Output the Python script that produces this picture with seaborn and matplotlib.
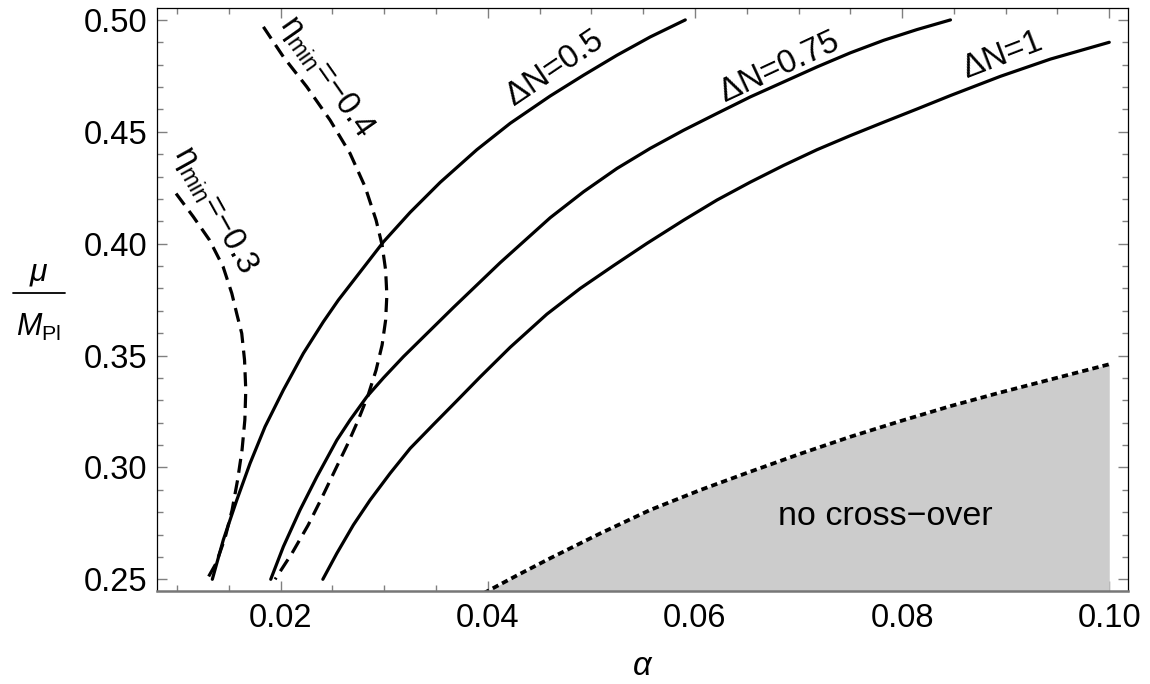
import numpy as np
import pandas as pd
import matplotlib
matplotlib.use("Agg")
import matplotlib.pyplot as plt
from matplotlib.lines import Line2D
from matplotlib.ticker import MultipleLocator, FixedLocator
import seaborn as sns

# ---------------- data ----------------
dn05_x = [0.01341, 0.01447, 0.01577, 0.01705, 0.0185, 0.02027, 0.0222, 0.02413, 0.02558,
          0.02993, 0.03251, 0.03541, 0.03895, 0.04217, 0.04603, 0.04925, 0.05247, 0.05569, 0.05907]
dn05_y = [0.2500, 0.2676, 0.2854, 0.3018, 0.3182, 0.3346, 0.3510, 0.3651, 0.3748,
          0.4008, 0.4140, 0.4274, 0.4420, 0.4538, 0.4660, 0.4753, 0.4842, 0.4924, 0.5000]

dn075_x = [0.01905, 0.02027, 0.02188, 0.0235, 0.02543, 0.02671, 0.02833, 0.02993, 0.03186,
           0.03412, 0.03669, 0.0412, 0.04603, 0.04925, 0.05247, 0.05569, 0.05891, 0.06213,
           0.06535, 0.06857, 0.07179, 0.07501, 0.07823, 0.08145, 0.08467]
dn075_y = [0.2500, 0.2646, 0.2810, 0.2958, 0.3122, 0.3212, 0.3316, 0.3400, 0.3495,
           0.3598, 0.3715, 0.3915, 0.4116, 0.4232, 0.4336, 0.4426, 0.4507, 0.4582,
           0.4656, 0.4723, 0.4790, 0.4853, 0.4909, 0.4957, 0.5000]

dn1_x = [0.02408, 0.02543, 0.02703, 0.02864, 0.03058, 0.03251, 0.03476, 0.03702, 0.03926,
         0.04217, 0.04571, 0.04893, 0.05215, 0.05536, 0.05891, 0.06213, 0.06535, 0.06857,
         0.07179, 0.07501, 0.07823, 0.08145, 0.08467, 0.0895, 0.09433, 0.1000]
dn1_y = [0.2500, 0.2616, 0.2743, 0.2854, 0.2974, 0.3085, 0.3192, 0.3298, 0.3404,
         0.3537, 0.3685, 0.3800, 0.3902, 0.4001, 0.4105, 0.4195, 0.4275, 0.4350,
         0.4420, 0.4483, 0.4543, 0.4602, 0.4662, 0.4748, 0.4825, 0.4900]

eta03_x = [0.00991, 0.01158, 0.01314, 0.01445, 0.01529, 0.0158, 0.01625, 0.01652, 0.01664,
           0.01655, 0.01628, 0.01585, 0.01532, 0.01464, 0.01377, 0.0129]
eta03_y = [0.4224, 0.4120, 0.4016, 0.3897, 0.3778, 0.3681, 0.3599, 0.3480, 0.3346,
           0.3212, 0.3078, 0.2944, 0.2810, 0.2685, 0.2571, 0.2500]

eta04_x = [0.01834, 0.02027, 0.02253, 0.02478, 0.02671, 0.02816, 0.02922, 0.0298, 0.03014,
           0.03026, 0.03014, 0.0298, 0.02922, 0.02845, 0.02749, 0.02643, 0.02526, 0.02401,
           0.02266, 0.02111, 0.01947]
eta04_y = [0.4969, 0.4835, 0.4701, 0.4552, 0.4403, 0.4254, 0.4105, 0.3994, 0.3882,
           0.3770, 0.3658, 0.3547, 0.3435, 0.3323, 0.3211, 0.3100, 0.2988, 0.2867,
           0.2742, 0.2617, 0.2500]

bound_x = [0.03959, 0.04281, 0.04603, 0.05086, 0.05569, 0.06052, 0.06535, 0.07018, 0.07501,
           0.07984, 0.08467, 0.0895, 0.09433, 0.1000]
bound_y = [0.24375, 0.2517, 0.2594, 0.2705, 0.2810, 0.2899, 0.2981, 0.3061, 0.3137,
           0.3207, 0.3274, 0.3335, 0.3393, 0.3461]

x_major = [0.02, 0.04, 0.06, 0.08, 0.10]
x_labels = ["0.02", "0.04", "0.06", "0.08", "0.10"]
y_major = [0.25, 0.30, 0.35, 0.40, 0.45, 0.50]
y_labels = ["0.25", "0.30", "0.35", "0.40", "0.45", "0.50"]

# ---------------- style ----------------
sns.set_theme(style="ticks")
plt.rcParams["font.family"] = ["Liberation Sans", "DejaVu Sans"]
plt.rcParams["mathtext.fontset"] = "custom"
plt.rcParams["mathtext.rm"] = "Liberation Sans"
plt.rcParams["mathtext.it"] = "Liberation Sans:italic"
plt.rcParams["mathtext.bf"] = "Liberation Sans:bold"
plt.rcParams["text.color"] = "black"
plt.rcParams["axes.labelcolor"] = "black"

FS = 23.5
W, H = 1150, 684
fig = plt.figure(figsize=(W / 100, H / 100), dpi=100)
ax = fig.add_axes([0.1368, 0.1364, 0.9806 - 0.1368, 0.9879 - 0.1364])

# grey region
ax.fill_between(bound_x, bound_y, 0.2, color="#cccccc", linewidth=0, zorder=1)

lw = 2.3
def curve(xs, ys, **kw):
    df = pd.DataFrame({"x": xs, "y": ys})
    sns.lineplot(data=df, x="x", y="y", sort=False, estimator=None, ax=ax,
                 color="black", zorder=3, **kw)

curve(dn05_x, dn05_y, linewidth=lw)
curve(dn075_x, dn075_y, linewidth=lw)
curve(dn1_x, dn1_y, linewidth=lw)
curve(eta03_x, eta03_y, linewidth=lw, linestyle=(0, (4.4, 2.4)), dash_capstyle="butt")
curve(eta04_x, eta04_y, linewidth=lw, linestyle=(0, (4.4, 2.4)), dash_capstyle="butt")
curve(bound_x, bound_y, linewidth=2.7, linestyle=(0, (1.7, 1.1)), dash_capstyle="butt")

ax.set_xlim(0.0081, 0.10178)
ax.set_ylim(0.2449, 0.5052)

# ticks
ax.xaxis.set_major_locator(FixedLocator(x_major))
ax.set_xticklabels(x_labels)
ax.xaxis.set_minor_locator(MultipleLocator(0.005))
ax.yaxis.set_major_locator(FixedLocator(y_major))
ax.set_yticklabels(y_labels)
ax.yaxis.set_minor_locator(MultipleLocator(0.01))
ax.tick_params(which="both", direction="in", top=True, right=True, color="#808080",
               width=1.0, labelsize=FS, labelcolor="black")
ax.tick_params(which="major", length=7)
ax.tick_params(which="minor", length=4.5)
ax.tick_params(axis="x", which="major", pad=9)
ax.tick_params(axis="y", which="major", pad=7)

for s in ["left", "top", "right"]:
    ax.spines[s].set_color("black")
    ax.spines[s].set_linewidth(0.9)
ax.spines["bottom"].set_color("#777777")
ax.spines["bottom"].set_linewidth(1.8)
ax.spines["bottom"].set_zorder(4)

# axis labels
ax.set_xlabel(r"$\alpha$", fontsize=FS, va="baseline", color="black")
ax.xaxis.set_label_coords(0.5, -0.1447)
ax.set_ylabel("")
fig.text(39 / W, 1 - 280 / H, r"$\mu$", fontsize=23, ha="center", va="baseline",
         color="black")
fig.text(39 / W, 1 - 336 / H, r"$M_{\mathrm{Pl}}$", fontsize=22, ha="center",
         va="baseline", color="black")
fig.add_artist(Line2D([12.7 / W, 65 / W], [1 - 293 / H, 1 - 293 / H],
                      transform=fig.transFigure, color="black", linewidth=1.3))

# curve labels
lab = dict(ha="center", va="center", rotation_mode="anchor", color="black")
ax.text(0.04651, 0.4784, "ΔN=0.5", fontsize=FS, rotation=34, **lab)
ax.text(0.06818, 0.4790, "ΔN=0.75", fontsize=FS, rotation=25, **lab)
ax.text(0.08966, 0.4842, "ΔN=1", fontsize=FS, rotation=21, **lab)
ax.text(0.0244, 0.4744, r"$\mathrm{\eta_{min}}$=−0.4", fontsize=FS, rotation=-55, **lab)
ax.text(0.01367, 0.4150, r"$\mathrm{\eta_{min}}$=−0.3", fontsize=FS, rotation=-61, **lab)
ax.text(0.07834, 0.2743, "no cross−over", fontsize=24.5, ha="center", va="baseline",
        color="black")

fig.savefig("out.png", dpi=100)
